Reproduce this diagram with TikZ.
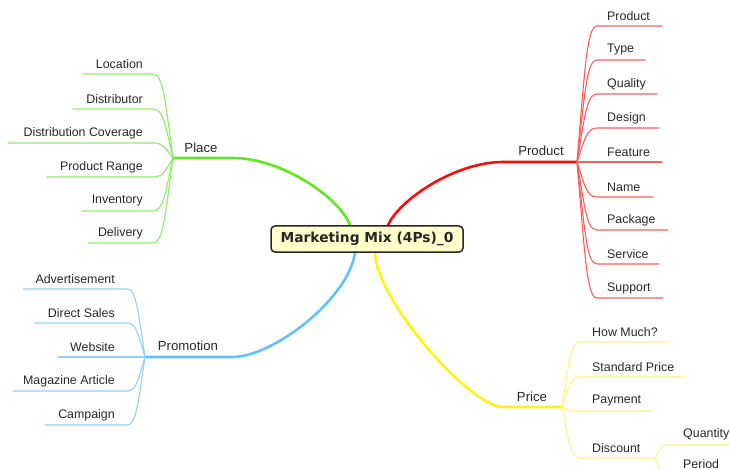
\documentclass[tikz,border=0pt]{standalone}
\usepackage{fontspec}
\setmainfont{Liberation Sans}
\newfontfamily\titlefont{DejaVu Sans}
\usetikzlibrary{backgrounds}
\definecolor{txt}{RGB}{40,40,40}
\definecolor{redM}{RGB}{255,10,10}
\definecolor{redT}{RGB}{255,90,90}
\definecolor{grnM}{RGB}{95,232,30}
\definecolor{grnT}{RGB}{140,238,100}
\definecolor{bluM}{RGB}{95,195,250}
\definecolor{bluT}{RGB}{145,210,250}
\definecolor{yelM}{RGB}{255,245,20}
\definecolor{yelT}{RGB}{255,245,130}
\definecolor{cream}{RGB}{255,255,204}
\begin{document}
\begin{tikzpicture}[x=1pt,y=-1pt,
  leaf/.style={font=\fontsize{12.4}{14}\selectfont, text=txt, inner sep=0pt},
  branchlabel/.style={font=\fontsize{13.2}{15}\selectfont, text=txt, inner sep=0pt},
  mainline/.style={line width=2.6pt, line cap=round},
  thinline/.style={line width=1.1pt, line cap=round},
  centerbox/.style={draw=black!85, line width=1.5pt, rounded corners=4pt, fill=cream,
    minimum width=192pt, minimum height=26pt, inner sep=0pt,
    font=\titlefont\bfseries\fontsize{13.8}{16}\selectfont, text=black!85}]
\useasboundingbox (0,0) rectangle (730,470);
\clip (0,0) rectangle (730,470);

\node[centerbox] (c) at (367,239) {Marketing Mix (4Ps)\_0};
\coordinate (cG) at ([xshift=-17pt]c.north);
\coordinate (cR) at ([xshift=21pt]c.north);
\coordinate (cB) at ([xshift=-12pt]c.south);
\coordinate (cY) at ([xshift=8pt]c.south);

% junctions
\coordinate (pH) at (503,162); \coordinate (pJ) at (577,162);
\coordinate (gH) at (233,158); \coordinate (gJ) at (173,158);
\coordinate (bH) at (233,357); \coordinate (bJ) at (145,357);
\coordinate (yH) at (503,407); \coordinate (yJ) at (562,407);
\coordinate (dJ) at (655,458);

\node[branchlabel] (product) at (541,151) {Product};
\node[branchlabel] (place) at (201,148) {Place};
\node[branchlabel] (promotion) at (188,346) {Promotion};
\node[branchlabel] (price) at (532,397) {Price};

\begin{pgfonlayer}{background}
\draw[mainline, redM] (cR) .. controls (399,200) and (455,162) .. (pH) -- (pJ);
\draw[mainline, grnM] (cG) .. controls (340,198) and (282,158) .. (gH) -- (gJ);
\draw[mainline, bluM] (cB) .. controls (348,300) and (272,357) .. (bH) -- (bJ);
\draw[mainline, yelM] (cY) .. controls (376,300) and (470,407) .. (yH) -- (yJ);
\end{pgfonlayer}

% Product children
\foreach \n/\t/\y/\e in {r1/Product/26/662, r2/Type/60/645, r3/Quality/94/657,
  r4/Design/128/659, r5/Feature/162/662, r6/Name/197/653, r7/Package/230/668,
  r8/Service/264/659, r9/Support/298/663}{
  \coordinate (\n s) at (597,\y); \coordinate (\n e) at (\e,\y);
  \node[leaf, anchor=west] (\n) at (607,\y-10) {\t};
  \draw[thinline, redT] (pJ) .. controls (585,\y+0.3*162-0.3*\y) and (587,\y) .. (\n s) -- (\n e);
}

% Place children
\foreach \n/\t/\y/\e in {g1/Location/74/83, g2/Distributor/109/73,
  g3/Distribution Coverage/143/8, g4/Product Range/177/47,
  g5/Inventory/211/82, g6/Delivery/243/88}{
  \coordinate (\n s) at (153,\y); \coordinate (\n e) at (\e,\y);
  \node[leaf, anchor=east] (\n) at (143,\y-10) {\t};
  \draw[thinline, grnT] (gJ) .. controls (165,\y+0.3*158-0.3*\y) and (163,\y) .. (\n s) -- (\n e);
}

% Promotion children
\foreach \n/\t/\y/\e in {b1/Advertisement/289/23, b2/Direct Sales/323/35,
  b3/Website/357/58, b4/Magazine Article/391/13, b5/Campaign/425/45}{
  \coordinate (\n s) at (127,\y); \coordinate (\n e) at (\e,\y);
  \node[leaf, anchor=east] (\n) at (115,\y-10) {\t};
  \draw[thinline, bluT] (bJ) .. controls (138,\y+0.3*357-0.3*\y) and (136,\y) .. (\n s) -- (\n e);
}

% Price children
\foreach \n/\t/\y/\e in {y1/How Much?/342/668, y2/Standard Price/377/686,
  y3/Payment/411/652}{
  \coordinate (\n s) at (580,\y); \coordinate (\n e) at (\e,\y);
  \node[leaf, anchor=west] (\n) at (592,\y-10) {\t};
  \draw[thinline, yelT] (yJ) .. controls (569,\y+0.3*407-0.3*\y) and (571,\y) .. (\n s) -- (\n e);
}
\coordinate (y4s) at (580,458);
\node[leaf, anchor=west] (discount) at (592,448) {Discount};
\draw[thinline, yelT] (yJ) .. controls (569,443) and (571,458) .. (y4s) -- (dJ);

\foreach \n/\t/\y in {q1/Quantity/445, q2/Period/475}{
  \coordinate (\n s) at (667,\y); \coordinate (\n e) at (740,\y);
  \node[leaf, anchor=west] (\n) at (683,\y-11) {\t};
  \draw[thinline, yelT] (dJ) .. controls (660,\y+0.3*458-0.3*\y) and (661,\y) .. (\n s) -- (\n e);
}
\end{tikzpicture}
\end{document}
